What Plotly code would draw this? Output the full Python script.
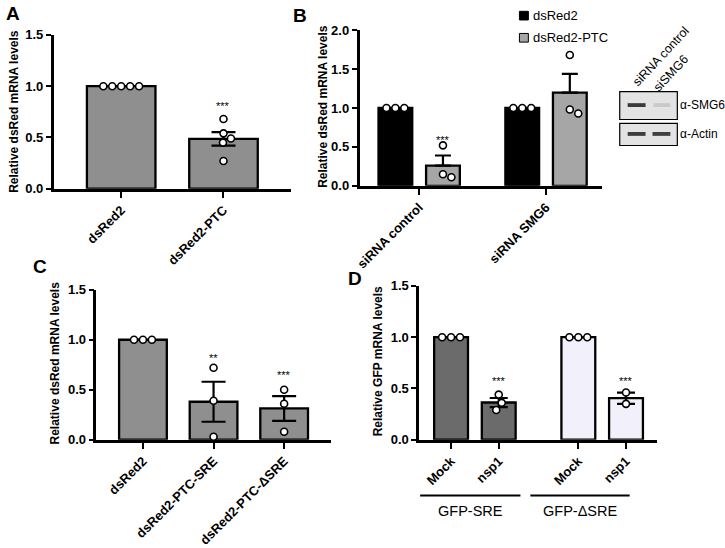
import plotly.graph_objects as go

W, H = 725, 548
FONT = "Arial, 'Liberation Sans', sans-serif"

# ---------------- data ----------------
# Panel A
a_cats = ["dsRed2", "dsRed2-PTC"]
a_means = [1.0, 0.487]
a_sem = [0.0, 0.066]
a_points = [[1.0, 1.0, 1.0, 1.0, 1.0], [0.68, 0.54, 0.49, 0.45, 0.27]]

# Panel B
b_groups = ["siRNA control", "siRNA SMG6"]
b_series = ["dsRed2", "dsRed2-PTC"]
b_dsred2_means = [1.0, 1.0]
b_dsred2_sem = [0.0, 0.0]
b_dsred2_points = [[1.0, 1.0, 1.0], [1.0, 1.0, 1.0]]
b_ptc_means = [0.26, 1.197]
b_ptc_sem = [0.13, 0.24]
b_ptc_points = [[0.52, 0.15, 0.11], [1.68, 0.98, 0.93]]
b_blot_lanes = ["siRNA control", "siSMG6"]
b_blot_rows = ["α-SMG6", "α-Actin"]

# Panel C
c_cats = ["dsRed2", "dsRed2-PTC-SRE", "dsRed2-PTC-ΔSRE"]
c_means = [1.0, 0.38, 0.313]
c_sem = [0.0, 0.20, 0.124]
c_points = [[1.0, 1.0, 1.0], [0.72, 0.39, 0.03], [0.50, 0.36, 0.08]]
c_stars = ["", "**", "***"]

# Panel D
d_groups = ["GFP-SRE", "GFP-ΔSRE"]
d_cats = ["Mock", "nsp1", "Mock", "nsp1"]
d_means = [1.0, 0.363, 1.0, 0.405]
d_sem = [0.0, 0.044, 0.0, 0.055]
d_points = [[1.0, 1.0, 1.0], [0.44, 0.36, 0.29], [1.0, 1.0, 1.0], [0.46, 0.35]]
d_stars = ["", "***", "", "***"]

# ---------------- styling ----------------
GRAY = "#8f8f8f"
B_GRAY = "#a6a6a6"
D_DARK = "#6b6b6b"
D_LIGHT = "#f1f0fb"


def xdom(p0, p1):
    return [p0 / W, p1 / W]


def ydom(top, bottom):
    return [1 - bottom / H, 1 - top / H]


# panel geometry: (xpx0, xpx1, ytop, ybottom, xrange, ymax)
geo = {
    "A": (49, 288, 29, 189, [-0.66, 1.66], 1.5),
    "B": (357, 601, 24, 186, [-0.47, 1.44], 2.0),
    "C": (92, 328, 294, 450, [-0.66, 2.66], 1.5),
    "D": (417, 657, 290, 450, [-0.67, 4.33], 1.5),
}
axis_ids = {"A": ("x", "y"), "B": ("x2", "y2"), "C": ("x3", "y3"), "D": ("x4", "y4")}


def ppu(panel):
    x0, x1, yt, yb, xr, ym = geo[panel]
    return (x1 - x0) / (xr[1] - xr[0]), (yb - yt) / ym


def swarm(vals, xppu, yppu, d=9.0):
    placed, out = [], []
    for v in vals:
        y = v * yppu
        dx, k = None, 0
        while dx is None:
            cands = [0.0] if k == 0 else [k * 0.5, -k * 0.5]
            for c in cands:
                if all((c - px) ** 2 + (y - py) ** 2 >= d * d - 1e-6 for px, py in placed):
                    dx = c
                    break
            k += 1
        placed.append((dx, y))
        out.append(dx / xppu)
    return out


fig = go.Figure()

line_black = dict(color="black", width=2.3)
marker_pt = dict(symbol="circle", size=7, color="white", line=dict(color="black", width=1.6))


def add_bars(panel, xs, means, sem, color, width, capw, upper_only=False):
    xa, ya = axis_ids[panel]
    err = dict(type="data", array=sem, color="black", thickness=2.2, width=capw, visible=True)
    if upper_only:
        err.update(symmetric=False, arrayminus=[0] * len(sem))
    fig.add_trace(go.Bar(x=xs, y=means, width=width, marker=dict(color=color, line=line_black),
                         error_y=err, xaxis=xa, yaxis=ya, showlegend=False, hoverinfo="skip"))


def add_points(panel, xs, pts):
    xa, ya = axis_ids[panel]
    xp, yp = ppu(panel)
    px, py = [], []
    for x, vals in zip(xs, pts):
        offs = swarm(vals, xp, yp)
        px += [x + o for o in offs]
        py += list(vals)
    fig.add_trace(go.Scatter(x=px, y=py, mode="markers", marker=marker_pt, xaxis=xa, yaxis=ya,
                             showlegend=False, cliponaxis=False, hoverinfo="skip"))


# Panel A
a_x = list(range(len(a_cats)))
add_bars("A", a_x, a_means, a_sem, GRAY, 0.67, 12)
add_points("A", a_x, a_points)

# Panel B
B_OFF = 0.1875
B_W = 0.266
b_x1 = [i - B_OFF for i in range(len(b_groups))]
b_x2 = [i + B_OFF for i in range(len(b_groups))]
add_bars("B", b_x1, b_dsred2_means, b_dsred2_sem, "black", B_W, 8, upper_only=True)
add_bars("B", b_x2, b_ptc_means, b_ptc_sem, B_GRAY, B_W, 8, upper_only=True)
add_points("B", b_x1 + b_x2, b_dsred2_points + b_ptc_points)

# Panel C
c_x = list(range(len(c_cats)))
add_bars("C", c_x, c_means, c_sem, GRAY, 0.676, 12)
add_points("C", c_x, c_points)

# Panel D
D_GROUP_STEP = 2.67
d_x = [g * D_GROUP_STEP + i for g in range(len(d_groups)) for i in range(2)]
d_colors = [D_DARK, D_DARK, D_LIGHT, D_LIGHT]
add_bars("D", d_x, d_means, d_sem, d_colors, 0.71, 9)
add_points("D", d_x, d_points)

# ---------------- axes ----------------
tickfont = dict(family=FONT, size=13, color="black", weight="bold")


def style_axes(panel, tickvals, ticktext):
    x0, x1, yt, yb, xr, ym = geo[panel]
    xa, ya = axis_ids[panel]
    xkey = "xaxis" + xa[1:]
    ykey = "yaxis" + ya[1:]
    fig.update_layout(**{
        xkey: dict(domain=xdom(x0, x1), range=xr, anchor=ya, tickvals=tickvals, ticktext=ticktext,
                   tickangle=-45, ticks="outside", ticklen=6, tickwidth=2.3, tickcolor="black",
                   showline=True, linewidth=2.5, linecolor="black", showgrid=False, zeroline=False,
                   tickfont=tickfont, fixedrange=True),
        ykey: dict(domain=ydom(yt, yb), range=[0, ym], anchor=xa, dtick=0.5, tickformat=".1f",
                   ticks="outside", ticklen=5, tickwidth=2.3, tickcolor="black",
                   showline=True, linewidth=2.5, linecolor="black", showgrid=False, zeroline=False,
                   tickfont=tickfont, fixedrange=True),
    })


style_axes("A", a_x, a_cats)
style_axes("B", list(range(len(b_groups))), b_groups)
style_axes("C", c_x, c_cats)
style_axes("D", d_x, d_cats)

annotations = []
shapes = []


def ann_px(text, x, y, size=12, bold=False, angle=0, xanchor="center", yanchor="middle"):
    annotations.append(dict(text=text, x=x / W, y=1 - y / H, xref="paper", yref="paper",
                            showarrow=False, textangle=angle, xanchor=xanchor, yanchor=yanchor,
                            font=dict(family=FONT, size=size, color="black",
                                      weight="bold" if bold else "normal")))


# panel letters
ann_px("A", 8, 7, size=19, bold=True)
ann_px("B", 297, 9, size=19, bold=True)
ann_px("C", 35, 270, size=19, bold=True)
ann_px("D", 352, 282, size=19, bold=True)

# y axis titles
ann_px("Relative dsRed mRNA levels", 9, 108, size=12, bold=True, angle=-90)
ann_px("Relative dsRed mRNA levels", 320, 103, size=12, bold=True, angle=-90)
ann_px("Relative dsRed mRNA levels", 50, 370, size=12, bold=True, angle=-90)
ann_px("Relative GFP mRNA levels", 375, 368, size=12, bold=True, angle=-90)


# significance stars (data coordinates)
def star(panel, x, y, text):
    xa, ya = axis_ids[panel]
    annotations.append(dict(text=text, x=x, y=y, xref=xa, yref=ya, showarrow=False,
                            yanchor="middle", yshift=-3,
                            font=dict(family=FONT, size=11, color="black")))


star("A", a_x[1], 0.84, "***")
star("B", b_x2[0], 0.63, "***")
for xx, s in zip(c_x, c_stars):
    if s:
        star("C", xx, 0.85 if s == "**" else 0.68, s)
for xx, s in zip(d_x, d_stars):
    if s:
        star("D", xx, 0.60, s)

# Panel B legend
leg_items = [(b_series[0], "black", 9), (b_series[1], B_GRAY, 32)]
for name, col, yc in leg_items:
    shapes.append(dict(type="rect", xref="paper", yref="paper",
                       x0=518 / W, x1=527 / W, y0=1 - (yc + 4.5) / H, y1=1 - (yc - 4.5) / H,
                       fillcolor=col, line=dict(color="black", width=1)))
    ann_px(name, 530, yc, size=13, xanchor="left")

# Western blot inset
boxes = [(88, 117), (121, 144)]
for (t, b) in boxes:
    shapes.append(dict(type="rect", xref="paper", yref="paper", x0=619 / W, x1=677 / W,
                       y0=1 - b / H, y1=1 - t / H, fillcolor="#e3e3e3",
                       line=dict(color="black", width=1.2)))
bands = [  # (x0, x1, ycenter, color)
    (627, 645, 102, "#3a3a3a"), (653, 670, 102, "#c9c9c9"),
    (627, 645, 132, "#3d3d3d"), (652, 670, 132, "#404040"),
]
for x0, x1, yc, col in bands:
    shapes.append(dict(type="rect", xref="paper", yref="paper", x0=x0 / W, x1=x1 / W,
                       y0=1 - (yc + 2) / H, y1=1 - (yc - 2) / H, fillcolor=col,
                       line=dict(width=0)))
ann_px(b_blot_rows[0], 678, 102, size=12, xanchor="left")
ann_px(b_blot_rows[1], 678, 132, size=12, xanchor="left")
ann_px(b_blot_lanes[0], 661, 51, size=12.5, angle=-47)
ann_px(b_blot_lanes[1], 671, 69, size=12.5, angle=-47)

# Panel D group bars and labels
grp_lines = [(418, 519), (529, 629)]
for (x0, x1), g in zip(grp_lines, d_groups):
    shapes.append(dict(type="line", xref="paper", yref="paper", x0=x0 / W, x1=x1 / W,
                       y0=1 - 508 / H, y1=1 - 508 / H, line=dict(color="black", width=2)))
    ann_px(g, (x0 + x1) / 2, 524, size=14.5)

fig.update_layout(width=W, height=H, margin=dict(l=0, r=0, t=0, b=0),
                  paper_bgcolor="white", plot_bgcolor="white", barmode="overlay",
                  annotations=annotations, shapes=shapes, showlegend=False,
                  font=dict(family=FONT, color="black"))

fig.write_html("out.html", config={"displayModeBar": False},
               post_script="document.body.style.margin='0';document.body.style.padding='0';"
                           "document.documentElement.style.overflow='hidden';")
